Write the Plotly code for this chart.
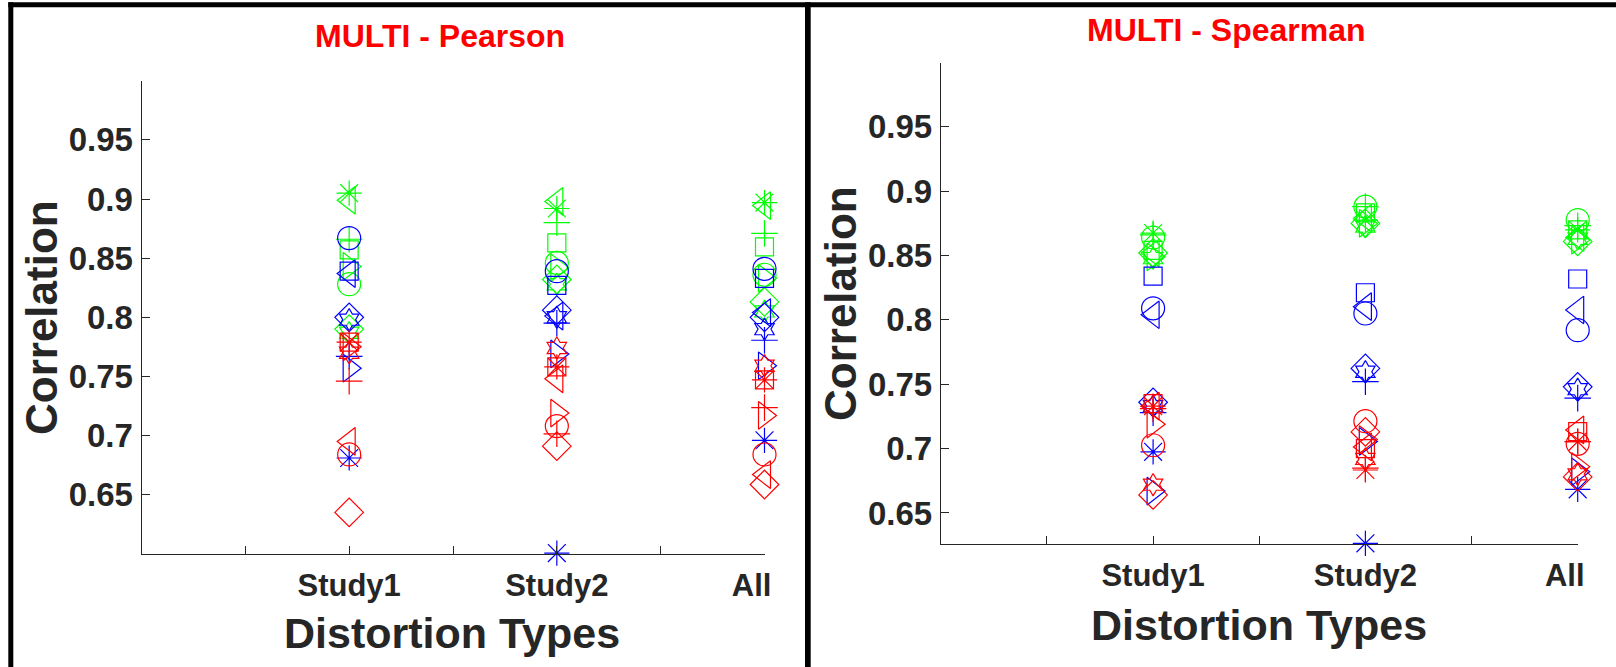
import plotly.graph_objects as go

W, H = 1616, 667

categories = ["Study1", "Study2", "All"]
y_ticks = [0.65, 0.70, 0.75, 0.80, 0.85, 0.90, 0.95]
y_tick_labels = ["0.65", "0.7", "0.75", "0.8", "0.85", "0.9", "0.95"]

# marker order for every list below
marker_names = ["asterisk", "circle", "square", "diamond", "tri-left", "tri-right", "hexagram", "plus"]

# Pearson: one list of 8 values per category (Study1, Study2, All)
pearson_green = [
    [0.905, 0.828, 0.857, 0.790, 0.899, 0.843, 0.787, 0.866],
    [0.892, 0.846, 0.863, 0.832, 0.898, 0.842, 0.828, 0.880],
    [0.897, 0.836, 0.8595, 0.813, 0.8945, 0.833, 0.805, 0.871],
]
pearson_blue = [
    [0.681, 0.867, 0.839, 0.800, 0.837, 0.757, 0.798, 0.767],
    [0.6006, 0.839, 0.827, 0.806, 0.801, 0.769, 0.800, 0.795],
    [0.696, 0.841, 0.833, 0.800, 0.804, 0.759, 0.790, 0.7806],
]
pearson_red = [
    [0.779, 0.684, 0.779, 0.635, 0.695, 0.775, 0.770, 0.746],
    [0.758, 0.708, 0.758, 0.691, 0.748, 0.719, 0.774, 0.7015],
    [0.747, 0.684, 0.747, 0.6586, 0.667, 0.717, 0.759, 0.7236],
]

# Spearman
spearman_green = [
    [0.8675, 0.864, 0.854, 0.852, 0.852, 0.849, 0.848, 0.866],
    [0.8776, 0.888, 0.8832, 0.875, 0.879, 0.875, 0.8725, 0.888],
    [0.870, 0.8776, 0.870, 0.861, 0.8641, 0.862, 0.863, 0.8732],
]
spearman_blue = [
    [0.6975, 0.809, 0.834, 0.736, 0.804, 0.667, 0.733, 0.728],
    [0.6264, 0.805, 0.8211, 0.7623, 0.8103, 0.7056, 0.7597, 0.752],
    [0.6684, 0.792, 0.8318, 0.748, 0.8077, 0.682, 0.7462, 0.7392],
]
spearman_red = [
    [0.733, 0.7026, 0.735, 0.664, 0.733, 0.719, 0.672, 0.731],
    [0.6834, 0.7213, 0.700, 0.713, 0.7013, 0.707, 0.692, 0.6848],
    [0.7055, 0.7037, 0.7132, 0.678, 0.7145, 0.686, 0.680, 0.7055],
]

pearson_range = [0.6, 1.0]
spearman_range = [0.6262, 1.0]

# ---------------- styling ----------------
symbols = {
    "asterisk": ("asterisk-open", 21),
    "circle": ("circle-open", 23),
    "square": ("square-open", 18),
    "diamond": ("diamond-open", 22),
    "tri-left": ("triangle-left-open", 24),
    "tri-right": ("triangle-right-open", 24),
    "hexagram": ("hexagram-open", 17),
    "plus": ("cross-thin-open", 19),
}
colors = {"green": "#00FF00", "blue": "#0000FF", "red": "#FF0000"}
FONT = "Liberation Sans, Arial, sans-serif"
DARK = "#262626"

cat_pos = [2 * (i + 1) for i in range(len(categories))]
x_tickvals = list(range(1, 2 * len(categories) + 1))
x_ticktext = []
for v in x_tickvals:
    if v in cat_pos:
        lab = categories[cat_pos.index(v)]
        if lab == "All":
            lab = "All\u00a0\u00a0\u00a0"
        x_ticktext.append(lab)
    else:
        x_ticktext.append("")

fig = go.Figure()

panels = [
    ("x", "y", {"green": pearson_green, "blue": pearson_blue, "red": pearson_red}),
    ("x2", "y2", {"green": spearman_green, "blue": spearman_blue, "red": spearman_red}),
]
for xa, ya, groups in panels:
    for cname in ["green", "blue", "red"]:
        data = groups[cname]
        for mi, mname in enumerate(marker_names):
            sym, sz = symbols[mname]
            fig.add_trace(go.Scatter(
                x=cat_pos,
                y=[data[c][mi] for c in range(len(categories))],
                mode="markers",
                xaxis=xa, yaxis=ya,
                cliponaxis=False,
                showlegend=False,
                hoverinfo="x+y",
                marker=dict(symbol=sym, size=sz, color=colors[cname],
                            line=dict(color=colors[cname], width=1.2)),
            ))

def px_x(p):
    return p / W

def px_y(p):
    return 1 - p / H

axis_common = dict(
    showline=True, linecolor=DARK, linewidth=1,
    ticks="inside", ticklen=8, tickwidth=1, tickcolor=DARK,
    showgrid=False, zeroline=False, automargin=False,
)
xfont = dict(family=FONT, size=31, color=DARK, weight="bold")
yfont = dict(family=FONT, size=33, color=DARK, weight="bold")

fig.update_layout(
    width=W, height=H,
    margin=dict(l=0, r=0, t=0, b=0, autoexpand=False),
    paper_bgcolor="white", plot_bgcolor="white",
    showlegend=False,
    xaxis=dict(domain=[px_x(141.5), px_x(764.5)], range=[0, 6], anchor="y",
               tickvals=x_tickvals, ticktext=x_ticktext, ticklabelstandoff=4,
               tickfont=xfont, **axis_common),
    yaxis=dict(domain=[px_y(553.8), px_y(80.8)], range=pearson_range, anchor="x",
               tickvals=y_ticks, ticktext=y_tick_labels, ticklabelstandoff=1,
               tickfont=yfont, **axis_common),
    xaxis2=dict(domain=[px_x(940.8), px_x(1577.7)], range=[0, 6], anchor="y2",
                tickvals=x_tickvals, ticktext=x_ticktext, ticklabelstandoff=4,
                tickfont=xfont, **axis_common),
    yaxis2=dict(domain=[px_y(543.6), px_y(62.5)], range=spearman_range, anchor="x2",
                tickvals=y_ticks, ticktext=y_tick_labels, ticklabelstandoff=1,
                tickfont=yfont, **axis_common),
)

# frame lines
shapes = [
    dict(type="rect", xref="paper", yref="paper", x0=px_x(8.3), x1=1.0,
         y0=px_y(7.3), y1=px_y(2.3), fillcolor="black", line=dict(width=0)),
    dict(type="rect", xref="paper", yref="paper", x0=px_x(8.3), x1=px_x(13.3),
         y0=0, y1=px_y(2.3), fillcolor="black", line=dict(width=0)),
    dict(type="rect", xref="paper", yref="paper", x0=px_x(805), x1=px_x(810.7),
         y0=0, y1=px_y(2.3), fillcolor="black", line=dict(width=0)),
]
fig.update_layout(shapes=shapes)

annots = [
    dict(text="MULTI - Pearson", x=px_x(440), y=px_y(36), font=dict(size=32, color="#FF0000")),
    dict(text="MULTI - Spearman", x=px_x(1226.7), y=px_y(30), font=dict(size=32, color="#FF0000")),
    dict(text="Distortion Types", x=px_x(451.7), y=px_y(633), font=dict(size=43, color=DARK)),
    dict(text="Distortion Types", x=px_x(1259), y=px_y(625), font=dict(size=43, color=DARK)),
    dict(text="Correlation", x=px_x(42), y=px_y(318), font=dict(size=44, color=DARK), textangle=-90),
    dict(text="Correlation", x=px_x(841), y=px_y(303), font=dict(size=44, color=DARK), textangle=-90),
]
for a in annots:
    a["font"]["family"] = FONT
    a["font"]["weight"] = "bold"
    fig.add_annotation(xref="paper", yref="paper", xanchor="center", yanchor="middle",
                       showarrow=False, **a)

fig.write_html("out.html")
